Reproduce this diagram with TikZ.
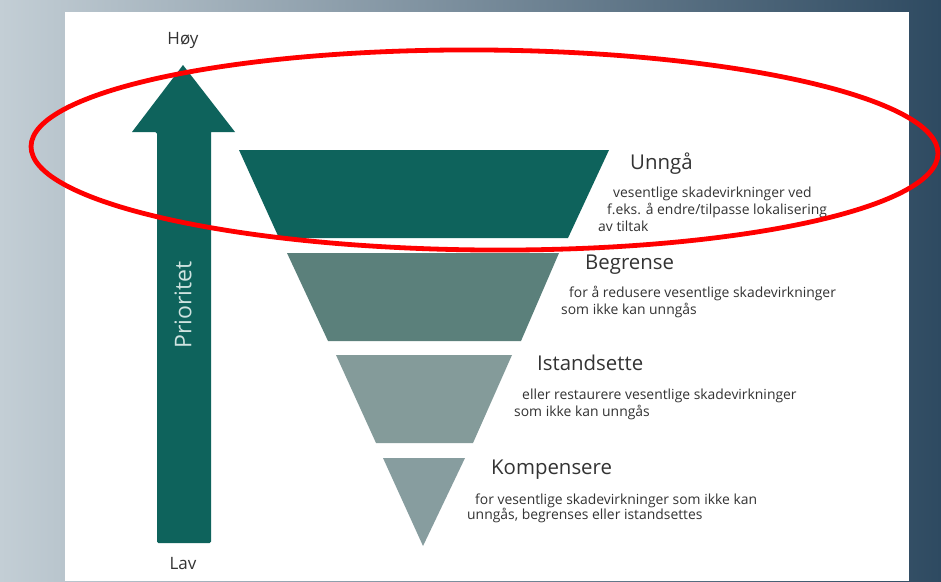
\documentclass[tikz,border=0pt]{standalone}
\usepackage{fontspec}
\setmainfont{Open Sans}
\definecolor{bgleft}{HTML}{C3CED5}
\definecolor{bgright}{HTML}{2E4A61}
\definecolor{tealA}{HTML}{0E635C}
\definecolor{tealB}{HTML}{5B807B}
\definecolor{tealC}{HTML}{849B9A}
\definecolor{tealD}{HTML}{879D9F}
\definecolor{txt}{HTML}{333333}
\definecolor{arrtxt}{HTML}{CFE3E0}
\tikzset{
  titletxt/.style={anchor=base west, inner sep=0pt, text=txt, font=\fontsize{20.4}{24}\selectfont},
  desctxt/.style={anchor=base west, inner sep=0pt, text=txt, font=\fontsize{13.9}{17}\selectfont},
  endtxt/.style={anchor=base, inner sep=0pt, text=txt, font=\fontsize{17}{20}\selectfont},
}
\begin{document}
\begin{tikzpicture}[x=1pt,y=-1pt]
\useasboundingbox (0,0) rectangle (941,581);
\shade[left color=bgleft, right color=bgright] (0,0) rectangle (941,581);
\fill[white] (65,12) rectangle (909,581);
% priority arrow
\fill[tealA, rounded corners=1.5pt] (157,543) -- (157,132) [sharp corners] -- (132,132) -- (183,65) -- (235,132) -- (211,132) [rounded corners=1.5pt] -- (211,543) -- cycle;
\node[inner sep=0pt, rotate=90, text=arrtxt, font=\fontsize{23}{27}\selectfont] (prio) at (183,305) {Prioritet};
\node[endtxt] (hoy) at (183,44) {Høy};
\node[endtxt] (lav) at (183,569) {Lav};
% inverted pyramid
\fill[tealA] (239,150) -- (609,150) -- (568,238) -- (279,238) -- cycle;
\fill[tealB] (287,253) -- (559,253) -- (521,341) -- (328,341) -- cycle;
\fill[tealC] (336,355) -- (512,355) -- (473,443) -- (376,443) -- cycle;
\fill[tealD] (383,458) -- (465,458) -- (423,546) -- cycle;
% labels
\node[titletxt] (t1) at (630,169) {Unngå};
\node[desctxt] (d1a) at (613,197) {vesentlige skadevirkninger ved};
\node[desctxt] (d1b) at (607,214) {f.eks. å endre/tilpasse lokalisering};
\node[desctxt] (d1c) at (598,231) {av tiltak};
\node[titletxt] (t2) at (585,269) {Begrense};
\node[desctxt] (d2a) at (569,297) {for å redusere vesentlige skadevirkninger};
\node[desctxt] (d2b) at (561,314) {som ikke kan unngås};
\node[titletxt] (t3) at (537,370) {Istandsette};
\node[desctxt] (d3a) at (522,399) {eller restaurere vesentlige skadevirkninger};
\node[desctxt] (d3b) at (514,416) {som ikke kan unngås};
\node[titletxt] (t4) at (491,474) {Kompensere};
\node[desctxt] (d4a) at (475,504) {for vesentlige skadevirkninger som ikke kan};
\node[desctxt] (d4b) at (467,519) {unngås, begrenses eller istandsettes};
% highlight ellipse
\draw[red, line width=4.8pt] (484.5,150) ellipse [x radius=453.5, y radius=100, rotate=-0.45];
\end{tikzpicture}
\end{document}
